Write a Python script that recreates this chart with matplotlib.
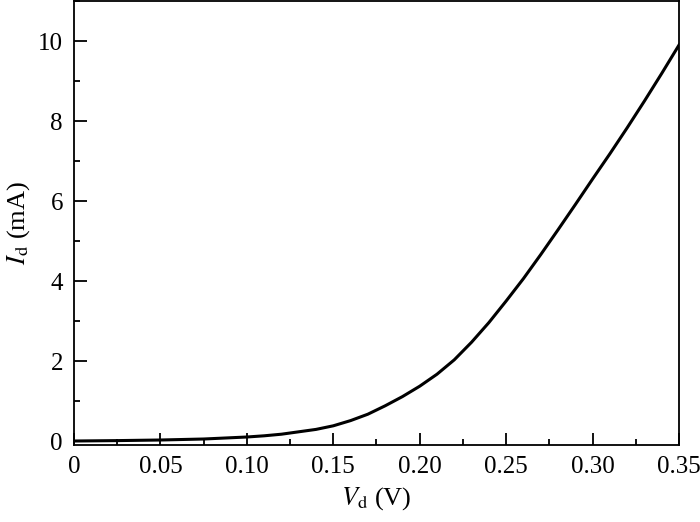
import numpy as np
import matplotlib.pyplot as plt
from matplotlib.ticker import MultipleLocator

plt.rcParams['font.family'] = ['Liberation Serif', 'DejaVu Serif']
plt.rcParams['mathtext.fontset'] = 'stix'

vd = [0.0, 0.025, 0.05, 0.075, 0.10, 0.11, 0.12, 0.13, 0.14, 0.15,
      0.16, 0.17, 0.18, 0.19, 0.20, 0.21, 0.22, 0.23, 0.24, 0.25,
      0.26, 0.27, 0.28, 0.29, 0.30, 0.31, 0.32, 0.33, 0.34, 0.35]
id_ma = [0.0, 0.01, 0.025, 0.05, 0.10, 0.13, 0.17, 0.23, 0.29, 0.38,
         0.51, 0.67, 0.88, 1.11, 1.37, 1.67, 2.03, 2.47, 2.96, 3.50,
         4.06, 4.66, 5.28, 5.91, 6.55, 7.18, 7.83, 8.50, 9.19, 9.90]

xticks = [0, 0.05, 0.10, 0.15, 0.20, 0.25, 0.30, 0.35]
xlabels = ['0', '0.05', '0.10', '0.15', '0.20', '0.25', '0.30', '0.35']
yticks = [0, 2, 4, 6, 8, 10]

fig = plt.figure(figsize=(7, 5.22), dpi=100)
ax = fig.add_axes([0.1057, 0.1475, 0.8643, 0.8505])

ax.plot(vd, id_ma, color='black', lw=2.2, solid_joinstyle='round')

ax.set_xlim(0, 0.35)
ax.set_ylim(-0.1, 11)
ax.set_xticks(xticks)
ax.set_xticklabels(xlabels)
ax.set_yticks(yticks)
ax.xaxis.set_minor_locator(MultipleLocator(0.025))
ax.yaxis.set_minor_locator(MultipleLocator(1))
ax.tick_params(which='both', direction='in', labelsize=18, top=False, right=False)
ax.tick_params(which='major', length=9, width=1.3, pad=8)
ax.tick_params(which='minor', length=4.5, width=1.3)
for s in ax.spines.values():
    s.set_linewidth(1.3)

ax.set_xlabel(r'$V_{\rm d}$ (V)', fontsize=19, labelpad=5)
ax.set_ylabel(r'$I_{\rm d}$ (mA)', fontsize=19, labelpad=4)

fig.savefig('out.png', dpi=100)
